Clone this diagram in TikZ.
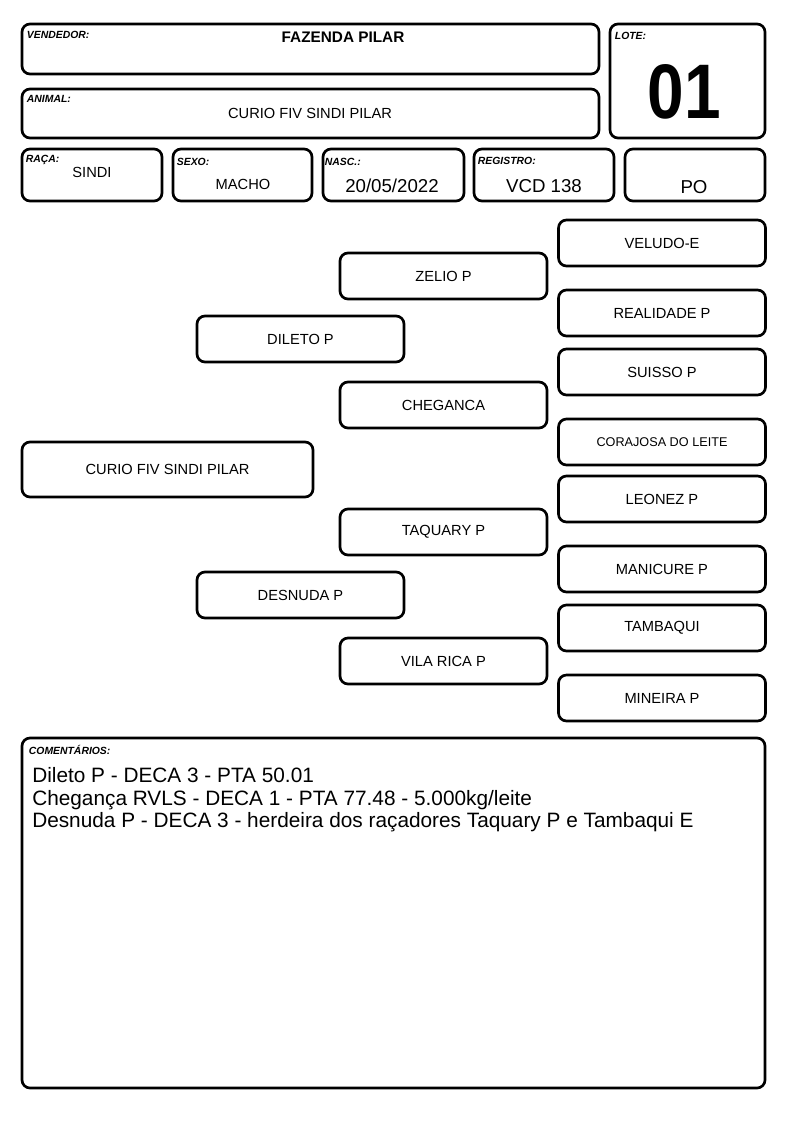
\documentclass[tikz,border=0pt]{standalone}
\usepackage{fontspec}
\setmainfont{Liberation Sans}
\usetikzlibrary{positioning}

\begin{document}
\begin{tikzpicture}[
    x=0.75pt, y=-0.75pt,
    box/.style={draw, line width=2pt, rounded corners=6pt, inner sep=0pt},
    sz/.style 2 args={minimum width=#1*0.75pt, minimum height=#2*0.75pt},
    lbl/.style={font=\fontsize{7.8}{9}\selectfont\bfseries\itshape, anchor=north west,
                inner sep=0pt},
    val/.style={font=\fontsize{11}{13}\selectfont, inner sep=0pt},
    bigval/.style={font=\fontsize{14}{16}\selectfont, inner sep=0pt},
    ped/.style={box, sz={207}{46}, font=\fontsize{11}{13}\selectfont},
  ]
  \useasboundingbox (0,0) rectangle (794,1123);

  % header boxes
  \node[box, sz={577}{50}] (vend) at (310.5,49) {};
  \node[box, sz={577}{49}] (anim) at (310.5,113.5) {};
  \node[box, sz={155}{114}] (lote) at (687.5,81) {};
  \node[box, sz={140}{52}] (raca) at (92,175) {};
  \node[box, sz={139}{52}] (sexo) at (242.5,175) {};
  \node[box, sz={141}{52}] (nasc) at (393.5,175) {};
  \node[box, sz={140}{52}] (reg) at (544,175) {};
  \node[box, sz={140}{52}] (po) at (695,175) {};

  % field labels
  \node[lbl] (vendl) at ([shift={(6,8)}]vend.north west) {VENDEDOR:};
  \node[lbl] (animl) at ([shift={(6,7)}]anim.north west) {ANIMAL:};
  \node[lbl] (lotel) at ([shift={(6,9)}]lote.north west) {LOTE:};
  \node[lbl] (racal) at ([shift={(5,7)}]raca.north west) {RAÇA:};
  \node[lbl] (sexol) at ([shift={(5,10)}]sexo.north west) {SEXO:};
  \node[lbl] (nascl) at ([shift={(3,10)}]nasc.north west) {NASC.:};
  \node[lbl] (regl) at ([shift={(5,9)}]reg.north west) {REGISTRO:};

  % field values
  \node[val, font=\fontsize{11.5}{13}\selectfont\bfseries] (vendv) at (343,37) {FAZENDA PILAR};
  \node[val] (animv) at (310,113) {CURIO FIV SINDI PILAR};
  \node[font=\fontsize{58}{60}\selectfont\bfseries, inner sep=0pt] (lotev) at (684,92)
    {\scalebox{0.85}[1]{01}};
  \node[val] (racav) at (92,172) {SINDI};
  \node[val] (sexov) at (243,184) {MACHO};
  \node[bigval] (nascv) at (392,186) {20/05/2022};
  \node[bigval] (regv) at (544,186) {VCD 138};
  \node[bigval] (pov) at (694,187) {PO};

  % pedigree: animal, parents, grandparents
  \node[box, sz={291}{55}, font=\fontsize{11}{13}\selectfont] (curio) at (167.5,469.5) {CURIO FIV SINDI PILAR};
  \node[ped] (dileto) at (300.5,339) {DILETO P};
  \node[ped] (desnuda) at (300.5,595) {DESNUDA P};
  \node[ped] (zelio) at (443.5,276) {ZELIO P};
  \node[ped] (cheganca) at (443.5,405) {CHEGANCA};
  \node[ped] (taquary) at (443.5,532) {TAQUARY P};
  \node[ped] (vilarica) at (443.5,661) {VILA RICA P};

  % great-grandparents
  \foreach \y/\n/\t in {243/veludo/VELUDO-E, 313/realidade/REALIDADE P,
                        372/suisso/SUISSO P, 499/leonez/LEONEZ P,
                        569/manicure/MANICURE P, 628/tambaqui/TAMBAQUI,
                        698/mineira/MINEIRA P}
    \node[ped] (\n) at (662,\y) {\t};
  \node[ped, font=\fontsize{9.5}{11}\selectfont] (corajosa) at (662,442) {CORAJOSA DO LEITE};

  % comments
  \node[box, sz={743}{350}] (coment) at (393.5,913) {};
  \node[lbl] (comentl) at ([shift={(8,8)}]coment.north west) {COMENTÁRIOS:};
  \node[anchor=north west, align=left, inner sep=0pt,
        font=\fontsize{15.6}{17}\selectfont] (comentv) at (32,767)
    {Dileto P - DECA 3 - PTA 50.01\\
     Chegança RVLS - DECA 1 - PTA 77.48 - 5.000kg/leite\\
     Desnuda P - DECA 3 - herdeira dos raçadores Taquary P e Tambaqui E};
\end{tikzpicture}
\end{document}
